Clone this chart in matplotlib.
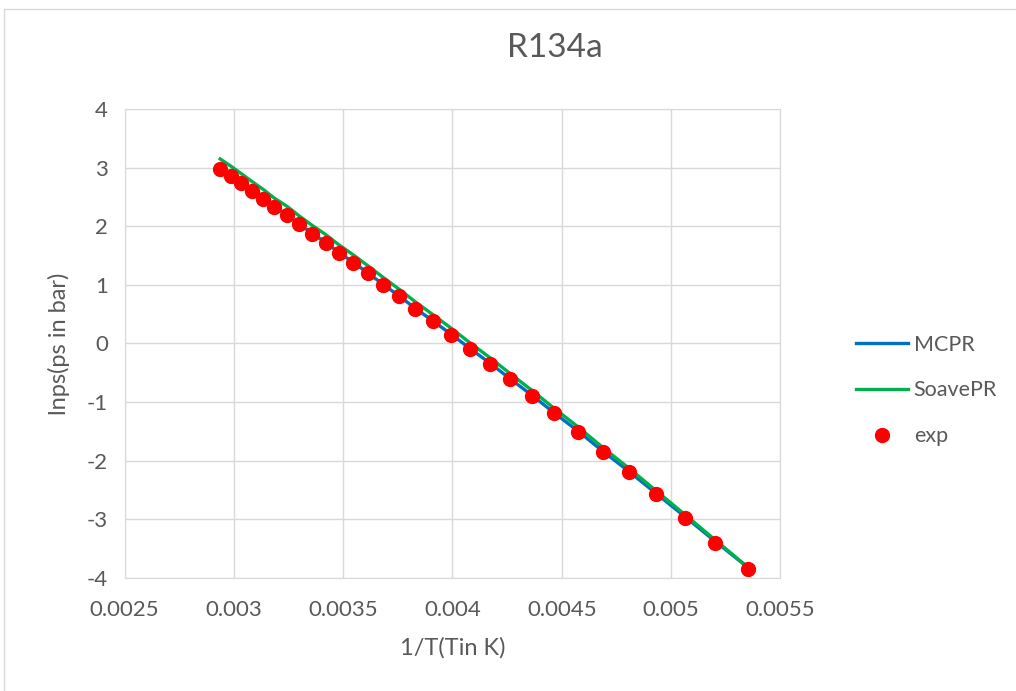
import matplotlib.pyplot as plt
from matplotlib.lines import Line2D

# 1/T (1/K) and ln ps (bar)
inv_T = [0.002937, 0.002986, 0.003033, 0.003082, 0.003133, 0.003184, 0.003242,
         0.003297, 0.003355, 0.003419, 0.003479, 0.003546, 0.003612, 0.003682,
         0.003755, 0.003830, 0.003910, 0.003994, 0.004080, 0.004171, 0.004264,
         0.004365, 0.004465, 0.004575, 0.004687, 0.004806, 0.004930, 0.005063,
         0.005202, 0.005350]
exp = [2.98, 2.86, 2.735, 2.604, 2.474, 2.326, 2.189, 2.031, 1.877, 1.717,
       1.546, 1.375, 1.195, 1.00, 0.802, 0.589, 0.375, 0.147, -0.097, -0.345,
       -0.614, -0.899, -1.195, -1.509, -1.85, -2.196, -2.572, -2.976, -3.403, -3.857]
mcpr = [2.99, 2.87, 2.745, 2.614, 2.484, 2.336, 2.199, 2.041, 1.887, 1.727,
        1.556, 1.385, 1.205, 1.01, 0.812, 0.599, 0.385, 0.157, -0.087, -0.335,
        -0.604, -0.889, -1.185, -1.499, -1.838, -2.182, -2.556, -2.956, -3.38, -3.82]
soave = [3.15, 3.027, 2.90, 2.766, 2.633, 2.483, 2.343, 2.182, 2.024, 1.861,
         1.687, 1.512, 1.329, 1.13, 0.928, 0.711, 0.493, 0.26, 0.011, -0.242,
         -0.515, -0.806, -1.107, -1.427, -1.774, -2.127, -2.509, -2.921, -3.355, -3.817]
xticks = [0.0025, 0.003, 0.0035, 0.004, 0.0045, 0.005, 0.0055]
yticks = [-4, -3, -2, -1, 0, 1, 2, 3, 4]

txt = '#595959'
plt.rcParams['font.family'] = ['Lato', 'DejaVu Sans']

fig = plt.figure(figsize=(10.16, 6.91), dpi=100)
fig.patches.append(plt.Rectangle((0.004, -0.01), 1.1, 0.997, transform=fig.transFigure,
                                 fill=False, edgecolor='#D9D9D9', lw=1))
ax = fig.add_axes([0.1227, 0.164, 0.6453, 0.678])

ax.plot(inv_T, mcpr, color='#0070C0', lw=2.4, label='MCPR', zorder=3)
ax.plot(inv_T, soave, color='#00B050', lw=2.4, label='SoavePR', zorder=3)
ax.plot(inv_T, exp, 'o', color='#FF0000', ms=10, label='exp', zorder=4)

ax.set_xlim(0.0025, 0.0055)
ax.set_ylim(-4, 4)
ax.set_xticks(xticks)
ax.set_xticklabels([f'{v:g}' for v in xticks])
ax.set_yticks(yticks)
ax.set_yticklabels([str(v) for v in yticks])
ax.grid(True, color='#D9D9D9', lw=1)
ax.set_axisbelow(True)
for s in ax.spines.values():
    s.set_color('#D9D9D9')
ax.tick_params(length=0, labelsize=16, colors=txt)
ax.tick_params(axis='x', pad=16)
ax.tick_params(axis='y', pad=12)

fig.text(0.546, 0.93, 'R134a', fontsize=24, color=txt, ha='center', va='center')
ax.set_xlabel('1/T(Tin K)', fontsize=17, color=txt, labelpad=12)
ax.set_ylabel('lnps(ps in bar)', fontsize=17, color=txt, labelpad=12)

handles = [Line2D([], [], color='#0070C0', lw=2.4),
           Line2D([], [], color='#00B050', lw=2.4),
           Line2D([], [], ls='', marker='o', color='#FF0000', ms=10)]
leg = fig.legend(handles, ['MCPR', 'SoavePR', 'exp'], loc='center left',
                 bbox_to_anchor=(0.823, 0.435), frameon=False, fontsize=15.5,
                 handlelength=2.45, handletextpad=0.25, labelspacing=1.2)
for t in leg.get_texts():
    t.set_color(txt)

fig.savefig('out.png', dpi=100)
